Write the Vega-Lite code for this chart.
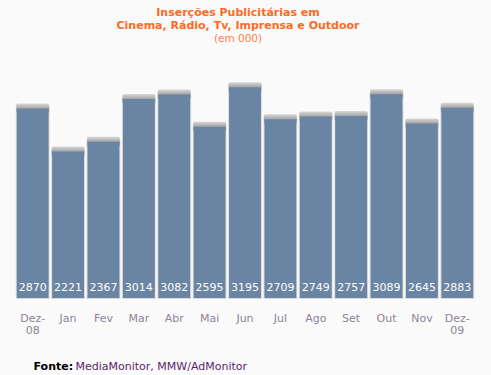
{
  "$schema": "https://vega.github.io/schema/vega-lite/v6.json",
  "width": 460,
  "height": 231,
  "autosize": {"type": "none"},
  "padding": {"left": 15, "top": 67, "right": 16, "bottom": 77},
  "background": "#fafafa",
  "config": {"view": {"stroke": null}, "font": "DejaVu Sans"},
  "title": {
    "text": ["Inserções Publicitárias em", "Cinema, Rádio, Tv, Imprensa e Outdoor"],
    "subtitle": "(em 000)",
    "anchor": "middle",
    "dx": -7,
    "offset": 23,
    "font": "DejaVu Sans",
    "fontSize": 11,
    "fontWeight": "bold",
    "color": "#ff6a1f",
    "lineHeight": 12.5,
    "subtitleFont": "DejaVu Sans",
    "subtitleFontSize": 10.5,
    "subtitleColor": "#ff7f4f",
    "subtitlePadding": 3
  },
  "data": {
    "values": [
      {"mes": "Dez-08", "valor": 2870},
      {"mes": "Jan", "valor": 2221},
      {"mes": "Fev", "valor": 2367},
      {"mes": "Mar", "valor": 3014},
      {"mes": "Abr", "valor": 3082},
      {"mes": "Mai", "valor": 2595},
      {"mes": "Jun", "valor": 3195},
      {"mes": "Jul", "valor": 2709},
      {"mes": "Ago", "valor": 2749},
      {"mes": "Set", "valor": 2757},
      {"mes": "Out", "valor": 3089},
      {"mes": "Nov", "valor": 2645},
      {"mes": "Dez-09", "valor": 2883}
    ]
  },
  "encoding": {
    "x": {
      "field": "mes",
      "type": "nominal",
      "sort": null,
      "scale": {"paddingInner": 0.1, "paddingOuter": 0.05},
      "axis": {
        "title": "MediaMonitor, MMW/AdMonitor",
        "titleFont": "DejaVu Sans",
        "titleFontSize": 11,
        "titleFontWeight": "normal",
        "titleColor": "#5c1e6b",
        "titleAnchor": "start",
        "titleAlign": "left",
        "titleBaseline": "alphabetic",
        "titleX": 60,
        "titleY": 71,
        "labelAngle": 0,
        "labelFont": "DejaVu Sans",
        "labelFontSize": 11,
        "labelColor": "#8e8496",
        "labelBaseline": "top",
        "labelPadding": 14,
        "labelLineHeight": 12,
        "labelExpr": "split(replace(datum.value, '-', '-|'), '|')",
        "ticks": false,
        "tickSize": 0,
        "domain": false,
        "grid": false
      }
    }
  },
  "layer": [
    {
      "mark": {"type": "bar", "fill": "#d6d6d6", "stroke": "#dadada", "strokeWidth": 2},
      "encoding": {
        "y": {
          "field": "valor",
          "type": "quantitative",
          "scale": {"domain": [0, 3500], "nice": false},
          "axis": {
            "title": "Fonte:",
            "titleFont": "DejaVu Sans",
            "titleFontSize": 11,
            "titleFontWeight": "bold",
            "titleColor": "#000000",
            "titleAngle": 0,
            "titleAlign": "left",
            "titleBaseline": "alphabetic",
            "titleX": 18,
            "titleY": 302,
            "labels": false,
            "ticks": false,
            "domain": false,
            "grid": false
          }
        }
      }
    },
    {
      "mark": {
        "type": "tick",
        "color": {"gradient": "linear", "x1": 0, "y1": 0, "x2": 0, "y2": 1, "stops": [{"offset": 0, "color": "#d8d8d8"}, {"offset": 0.5, "color": "#a4a4a4"}, {"offset": 1, "color": "#a4a4a4"}]},
        "opacity": 1, "size": 33, "thickness": 10, "cornerRadius": 2
      },
      "encoding": {"y": {"field": "valor", "type": "quantitative"}}
    },
    {
      "mark": {"type": "bar", "fill": "#6a85a3"},
      "encoding": {"y": {"field": "valor", "type": "quantitative"}}
    },
    {
      "mark": {"type": "text", "color": "#ffffff", "font": "DejaVu Sans", "fontSize": 11, "baseline": "alphabetic", "dy": -7},
      "encoding": {
        "y": {"datum": 0},
        "text": {"field": "valor", "type": "quantitative", "format": "d"}
      }
    }
  ]
}
